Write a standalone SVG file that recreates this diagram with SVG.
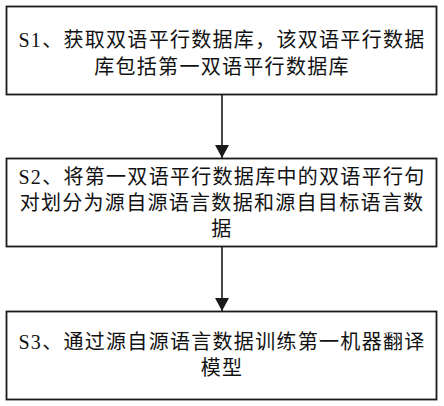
<svg xmlns="http://www.w3.org/2000/svg" width="444" height="406" viewBox="0 0 444 406">
<defs>
<style>
.box{fill:#fff;stroke:#1a1a1a;stroke-width:1.8}
.t{font-family:"Liberation Serif","Noto Sans CJK SC",serif;font-size:20px;fill:#111;text-anchor:middle;letter-spacing:1.3px}
.c{stroke:#1a1a1a;stroke-width:1.6;fill:none}
.ah{fill:#1a1a1a}
</style>
<marker id="arr" markerWidth="15" markerHeight="14" refX="13" refY="7" orient="auto" markerUnits="userSpaceOnUse">
<path d="M0,0 L13,7 L0,14 Z" class="ah"/>
</marker>
</defs>
<rect width="444" height="406" fill="#fff"/>
<g id="connectors">
<line class="c" x1="222" y1="95" x2="222" y2="158" marker-end="url(#arr)"/>
<line class="c" x1="222" y1="247" x2="222" y2="311" marker-end="url(#arr)"/>
</g>
<g id="s1">
<rect class="box" x="6.5" y="6.5" width="430" height="88"/>
<text class="t" x="222" y="47">S1、获取双语平行数据库，该双语平行数据</text>
<text class="t" x="222" y="74">库包括第一双语平行数据库</text>
</g>
<g id="s2">
<rect class="box" x="6.5" y="158.5" width="430" height="88"/>
<text class="t" x="222" y="184">S2、将第一双语平行数据库中的双语平行句</text>
<text class="t" x="222" y="210">对划分为源自源语言数据和源自目标语言数</text>
<text class="t" x="222" y="236">据</text>
</g>
<g id="s3">
<rect class="box" x="6.5" y="311.5" width="430" height="88"/>
<text class="t" x="222" y="349">S3、通过源自源语言数据训练第一机器翻译</text>
<text class="t" x="222" y="375">模型</text>
</g>
</svg>
